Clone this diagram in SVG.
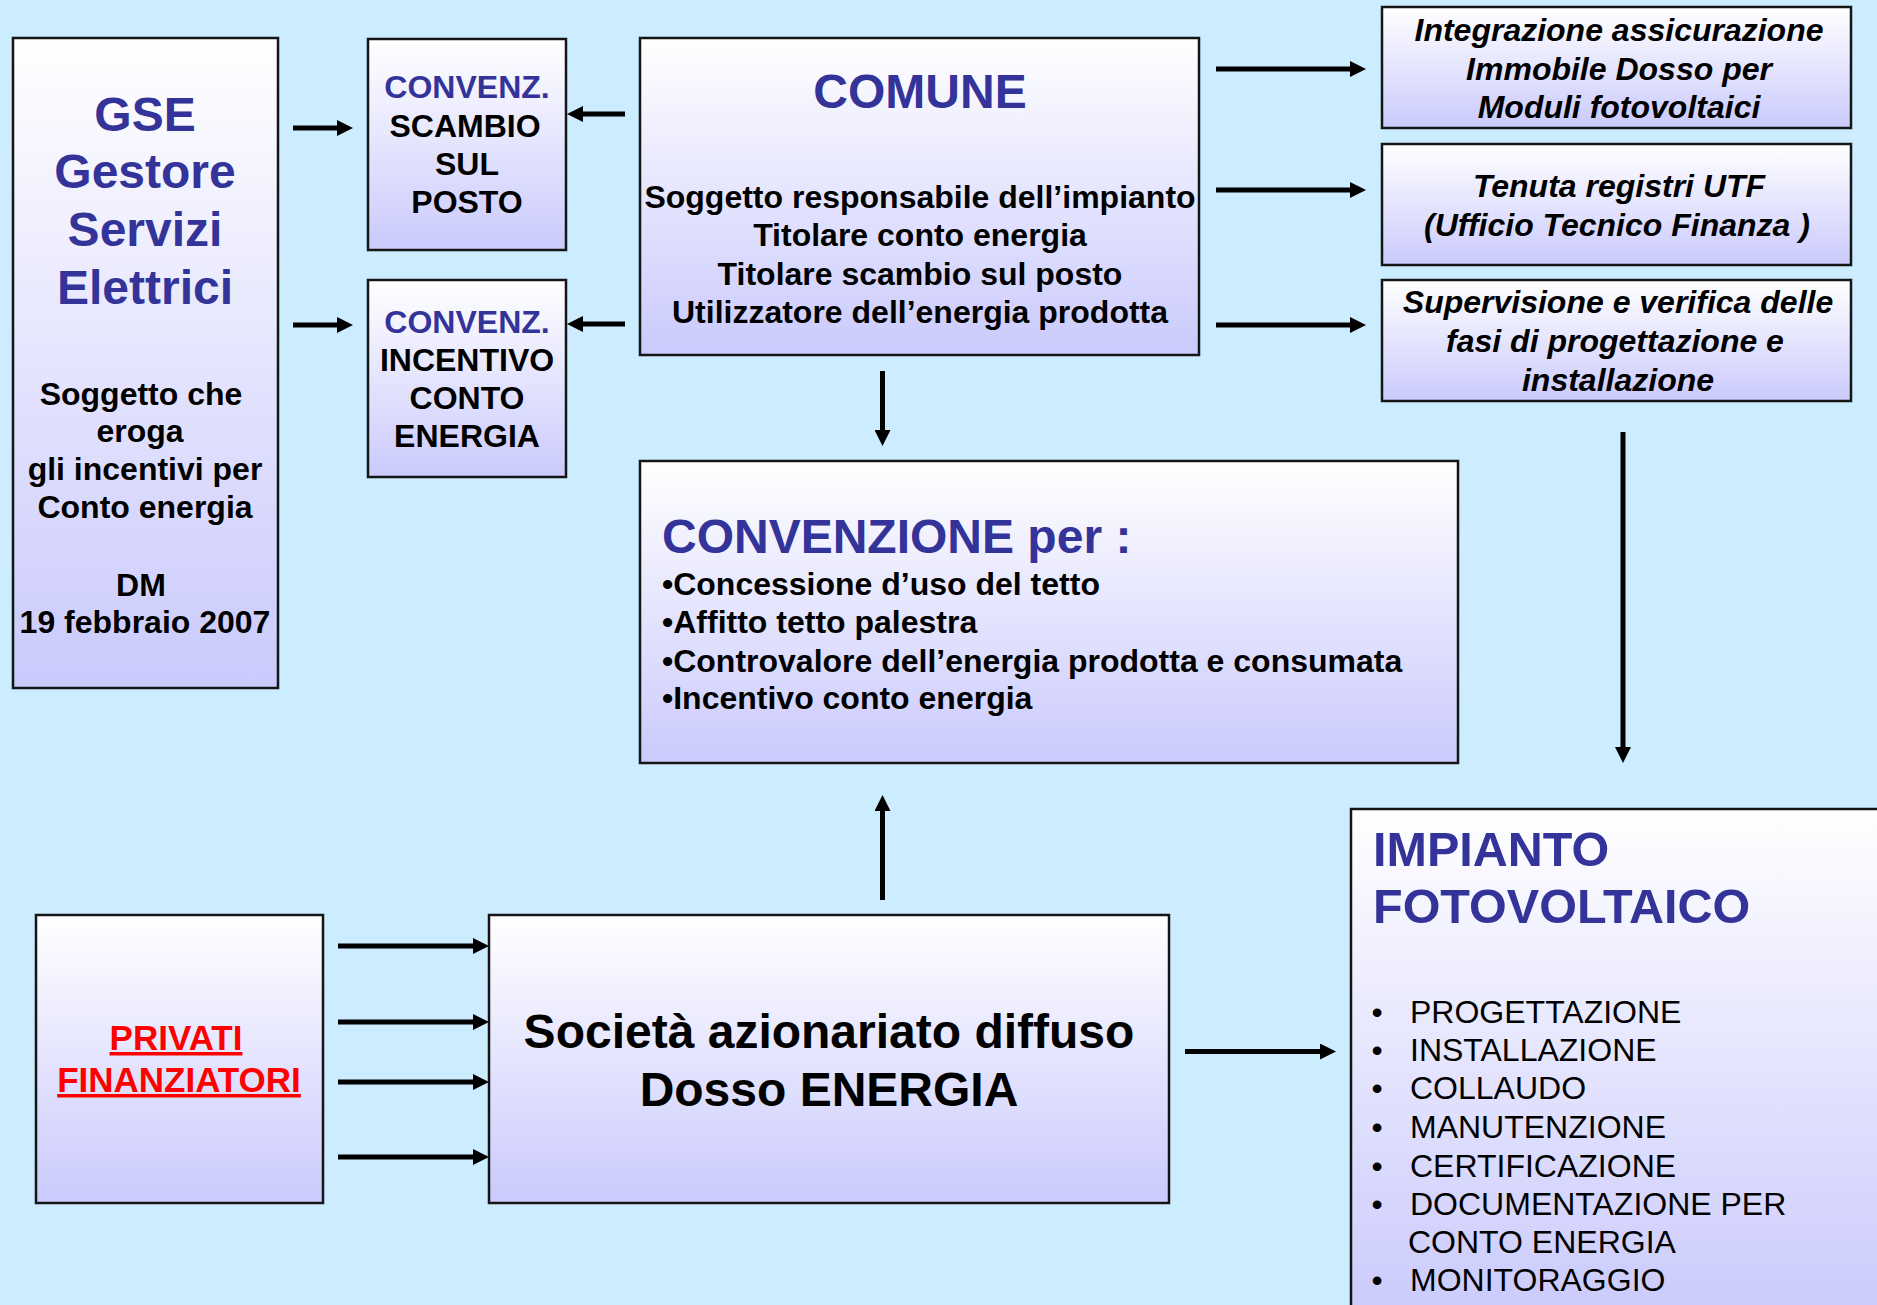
<svg xmlns="http://www.w3.org/2000/svg" width="1877" height="1305" viewBox="0 0 1877 1305">
<defs>
<linearGradient id="fill" x1="0" y1="0" x2="0" y2="1">
<stop offset="0" stop-color="#FFFFFF"/>
<stop offset="1" stop-color="#CACAFD"/>
</linearGradient>
<marker id="ah" markerUnits="userSpaceOnUse" viewBox="0 0 16 16" markerWidth="16" markerHeight="16" refX="2" refY="8" orient="auto">
<path d="M0,0 L16,8 L0,16 z" fill="#000"/>
</marker>
<style>
.box{fill:url(#fill);stroke:#151515;stroke-width:2.5}
text{font-family:"Liberation Sans",Arial,sans-serif;font-weight:bold;fill:#000}
.c{text-anchor:middle}
.t{fill:#333399}
.b32{font-size:32px}
.it{font-style:italic;font-size:32px;text-anchor:middle}
.reg{font-weight:normal;font-size:32px}
.red{fill:#FF0000;font-size:35px;text-decoration:underline;text-anchor:middle}
.ar{stroke:#000;stroke-width:5;fill:none;marker-end:url(#ah)}
</style>
</defs>
<rect width="1877" height="1305" fill="#CCECFF"/>

<g id="gse">
<rect class="box" x="13" y="38" width="265" height="650"/>
<text class="c t" font-size="48" x="145" y="131">GSE</text>
<text class="c t" font-size="48" x="145" y="188">Gestore</text>
<text class="c t" font-size="48" x="145" y="246">Servizi</text>
<text class="c t" font-size="48" x="145" y="304">Elettrici</text>
<text class="c b32" x="141" y="405">Soggetto che</text>
<text class="c b32" x="140" y="442">eroga</text>
<text class="c b32" x="145" y="480">gli incentivi per</text>
<text class="c b32" x="145" y="518">Conto energia</text>
<text class="c b32" x="141" y="596">DM</text>
<text class="c b32" x="145" y="633">19 febbraio 2007</text>
</g>

<g id="conv-scambio">
<rect class="box" x="368" y="39" width="198" height="211"/>
<text class="c b32 t" x="467" y="98">CONVENZ.</text>
<text class="c b32" x="465" y="137">SCAMBIO</text>
<text class="c b32" x="467" y="175">SUL</text>
<text class="c b32" x="467" y="213">POSTO</text>
</g>

<g id="conv-incentivo">
<rect class="box" x="368" y="280" width="198" height="197"/>
<text class="c b32 t" x="467" y="333">CONVENZ.</text>
<text class="c b32" x="467" y="371">INCENTIVO</text>
<text class="c b32" x="467" y="409">CONTO</text>
<text class="c b32" x="467" y="447">ENERGIA</text>
</g>

<g id="comune">
<rect class="box" x="640" y="38" width="559" height="317"/>
<text class="c t" font-size="48" x="920" y="108">COMUNE</text>
<text class="c b32" x="920" y="208">Soggetto responsabile dell’impianto</text>
<text class="c b32" x="920" y="246">Titolare conto energia</text>
<text class="c b32" x="920" y="285">Titolare scambio sul posto</text>
<text class="c b32" x="920" y="323">Utilizzatore dell’energia prodotta</text>
</g>

<g id="assicurazione">
<rect class="box" x="1382" y="7" width="469" height="121"/>
<text class="it" x="1619" y="41">Integrazione assicurazione</text>
<text class="it" x="1619" y="80">Immobile Dosso per</text>
<text class="it" x="1619" y="118">Moduli fotovoltaici</text>
</g>

<g id="utf">
<rect class="box" x="1382" y="144" width="469" height="121"/>
<text class="it" x="1619" y="197">Tenuta registri UTF</text>
<text class="it" x="1617" y="236">(Ufficio Tecnico Finanza )</text>
</g>

<g id="supervisione">
<rect class="box" x="1382" y="280" width="469" height="121"/>
<text class="it" x="1618" y="313">Supervisione e verifica delle</text>
<text class="it" x="1615" y="352">fasi di progettazione e</text>
<text class="it" x="1618" y="391">installazione</text>
</g>

<g id="convenzione">
<rect class="box" x="640" y="461" width="818" height="302"/>
<text class="t" font-size="48" x="662" y="553">CONVENZIONE per :</text>
<text class="b32" x="662" y="595">•Concessione d’uso del tetto</text>
<text class="b32" x="662" y="633">•Affitto tetto palestra</text>
<text class="b32" x="662" y="672">•Controvalore dell’energia prodotta e consumata</text>
<text class="b32" x="662" y="709">•Incentivo conto energia</text>
</g>

<g id="privati">
<rect class="box" x="36" y="915" width="287" height="288"/>
<text class="red" x="176" y="1050">PRIVATI</text>
<text class="red" x="179" y="1092">FINANZIATORI</text>
</g>

<g id="societa">
<rect class="box" x="489" y="915" width="680" height="288"/>
<text class="c" font-size="48" x="829" y="1048">Società azionariato diffuso</text>
<text class="c" font-size="48" x="829" y="1106">Dosso ENERGIA</text>
</g>

<g id="impianto">
<rect class="box" x="1351" y="809" width="540" height="510"/>
<text class="t" font-size="48.5" x="1373" y="866">IMPIANTO</text>
<text class="t" font-size="48.5" x="1373" y="923">FOTOVOLTAICO</text>
<text class="reg c" x="1377" y="1023">•</text><text class="reg" x="1410" y="1023">PROGETTAZIONE</text>
<text class="reg c" x="1377" y="1061">•</text><text class="reg" x="1410" y="1061">INSTALLAZIONE</text>
<text class="reg c" x="1377" y="1099">•</text><text class="reg" x="1410" y="1099">COLLAUDO</text>
<text class="reg c" x="1377" y="1138">•</text><text class="reg" x="1410" y="1138">MANUTENZIONE</text>
<text class="reg c" x="1377" y="1177">•</text><text class="reg" x="1410" y="1177">CERTIFICAZIONE</text>
<text class="reg c" x="1377" y="1215">•</text><text class="reg" x="1410" y="1215">DOCUMENTAZIONE PER</text>
<text class="reg" x="1408" y="1253">CONTO ENERGIA</text>
<text class="reg c" x="1377" y="1291">•</text><text class="reg" x="1410" y="1291">MONITORAGGIO</text>
</g>

<g id="connectors">
<path class="ar" d="M293,128 H339"/>
<path class="ar" d="M293,325 H339"/>
<path class="ar" d="M625,114 H581"/>
<path class="ar" d="M625,324 H581"/>
<path class="ar" d="M1216,69 H1352"/>
<path class="ar" d="M1216,190 H1352"/>
<path class="ar" d="M1216,325 H1352"/>
<path class="ar" d="M882.5,371 V432"/>
<path class="ar" d="M882.5,900 V809"/>
<path class="ar" d="M1623,432 V749"/>
<path class="ar" d="M338,946 H475"/>
<path class="ar" d="M338,1022 H475"/>
<path class="ar" d="M338,1082 H475"/>
<path class="ar" d="M338,1157 H475"/>
<path class="ar" d="M1185,1051.5 H1322"/>
</g>
</svg>
